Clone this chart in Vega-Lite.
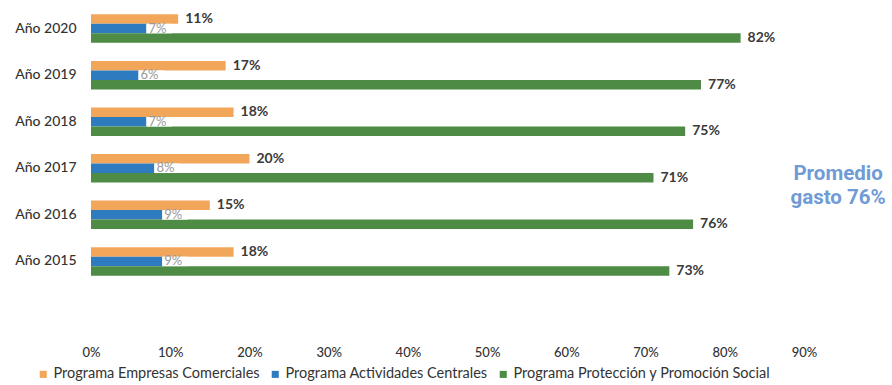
{
  "$schema": "https://vega.github.io/schema/vega-lite/v6.json",
  "width": 713,
  "height": 280,
  "autosize": {"type": "none"},
  "padding": {"left": 91, "top": 5, "right": 88, "bottom": 100},
  "background": "white",
  "config": {"font": "Lato", "view": {"stroke": null}},
  "data": {
    "values": [
      {"year": "Año 2020", "serie": "Programa Empresas Comerciales", "value": 0.11},
      {"year": "Año 2020", "serie": "Programa Actividades Centrales", "value": 0.07},
      {"year": "Año 2020", "serie": "Programa Protección y Promoción Social", "value": 0.82},
      {"year": "Año 2019", "serie": "Programa Empresas Comerciales", "value": 0.17},
      {"year": "Año 2019", "serie": "Programa Actividades Centrales", "value": 0.06},
      {"year": "Año 2019", "serie": "Programa Protección y Promoción Social", "value": 0.77},
      {"year": "Año 2018", "serie": "Programa Empresas Comerciales", "value": 0.18},
      {"year": "Año 2018", "serie": "Programa Actividades Centrales", "value": 0.07},
      {"year": "Año 2018", "serie": "Programa Protección y Promoción Social", "value": 0.75},
      {"year": "Año 2017", "serie": "Programa Empresas Comerciales", "value": 0.20},
      {"year": "Año 2017", "serie": "Programa Actividades Centrales", "value": 0.08},
      {"year": "Año 2017", "serie": "Programa Protección y Promoción Social", "value": 0.71},
      {"year": "Año 2016", "serie": "Programa Empresas Comerciales", "value": 0.15},
      {"year": "Año 2016", "serie": "Programa Actividades Centrales", "value": 0.09},
      {"year": "Año 2016", "serie": "Programa Protección y Promoción Social", "value": 0.76},
      {"year": "Año 2015", "serie": "Programa Empresas Comerciales", "value": 0.18},
      {"year": "Año 2015", "serie": "Programa Actividades Centrales", "value": 0.09},
      {"year": "Año 2015", "serie": "Programa Protección y Promoción Social", "value": 0.73}
    ]
  },
  "encoding": {
    "y": {
      "field": "year", "type": "nominal",
      "sort": ["Año 2020", "Año 2019", "Año 2018", "Año 2017", "Año 2016", "Año 2015"],
      "scale": {"paddingInner": 0.387, "paddingOuter": 0.2},
      "axis": {"title": null, "domain": false, "ticks": false, "labelFontSize": 14, "labelColor": "#333333", "labelPadding": 15, "labelFontWeight": 500}
    },
    "x": {
      "field": "value", "type": "quantitative",
      "scale": {"domain": [0, 0.9], "nice": false, "zero": true},
      "axis": {"title": null, "format": ".0%", "values": [0, 0.1, 0.2, 0.3, 0.4, 0.5, 0.6, 0.7, 0.8, 0.9], "grid": false, "domain": false, "ticks": false, "offset": 59, "labelFlush": false, "labelFontSize": 13, "labelColor": "#333333", "labelFontWeight": 500}
    }
  },
  "layer": [
    {
      "mark": {"type": "bar"},
      "encoding": {
        "yOffset": {"field": "serie", "type": "nominal", "sort": ["Programa Empresas Comerciales", "Programa Actividades Centrales", "Programa Protección y Promoción Social"]},
        "color": {
          "field": "serie", "type": "nominal",
          "scale": {"domain": ["Programa Empresas Comerciales", "Programa Actividades Centrales", "Programa Protección y Promoción Social"], "range": ["#F2A65A", "#2F7BC0", "#4E8B45"]},
          "legend": {"title": null, "orient": "none", "legendX": -55, "legendY": 362, "direction": "horizontal", "symbolType": "square", "symbolSize": 50, "labelFontSize": 14.5, "labelColor": "#333333", "labelLimit": 400, "columnPadding": 8, "symbolOffset": 0, "labelOffset": 3}
        }
      }
    },
    {
      "transform": [
        {"filter": "datum.serie === 'Programa Actividades Centrales'"},
        {"calculate": "datum.value + 0.032", "as": "boxEnd"}
      ],
      "mark": {"type": "bar", "color": "white", "size": 9.5},
      "encoding": {
        "yOffset": {"field": "serie", "type": "nominal", "sort": ["Programa Empresas Comerciales", "Programa Actividades Centrales", "Programa Protección y Promoción Social"]},
        "x2": {"field": "boxEnd"}
      }
    },
    {
      "transform": [{"filter": "datum.serie !== 'Programa Actividades Centrales'"}],
      "mark": {"type": "text", "align": "left", "baseline": "middle", "dx": 7, "fontSize": 14, "fontWeight": "bold", "color": "#3a3a3a"},
      "encoding": {
        "yOffset": {"field": "serie", "type": "nominal", "sort": ["Programa Empresas Comerciales", "Programa Actividades Centrales", "Programa Protección y Promoción Social"]},
        "text": {"field": "value", "type": "quantitative", "format": ".0%"}
      }
    },
    {
      "transform": [{"filter": "datum.serie === 'Programa Actividades Centrales'"}],
      "mark": {"type": "text", "align": "left", "baseline": "middle", "dx": 2, "fontSize": 13, "fontWeight": "normal", "color": "#9a9a9a"},
      "encoding": {
        "yOffset": {"field": "serie", "type": "nominal", "sort": ["Programa Empresas Comerciales", "Programa Actividades Centrales", "Programa Protección y Promoción Social"]},
        "text": {"field": "value", "type": "quantitative", "format": ".0%"}
      }
    },
    {
      "data": {"values": [{"year": "Año 2017", "value": 0.943, "label": ["Promedio", "gasto 76%"]}]},
      "mark": {"type": "text", "align": "center", "baseline": "middle", "dy": 6, "fontSize": 20.5, "fontWeight": "bold", "font": "Roboto", "color": "#6F9BD6", "lineHeight": 24},
      "encoding": {
        "text": {"field": "label"}
      }
    }
  ]
}
